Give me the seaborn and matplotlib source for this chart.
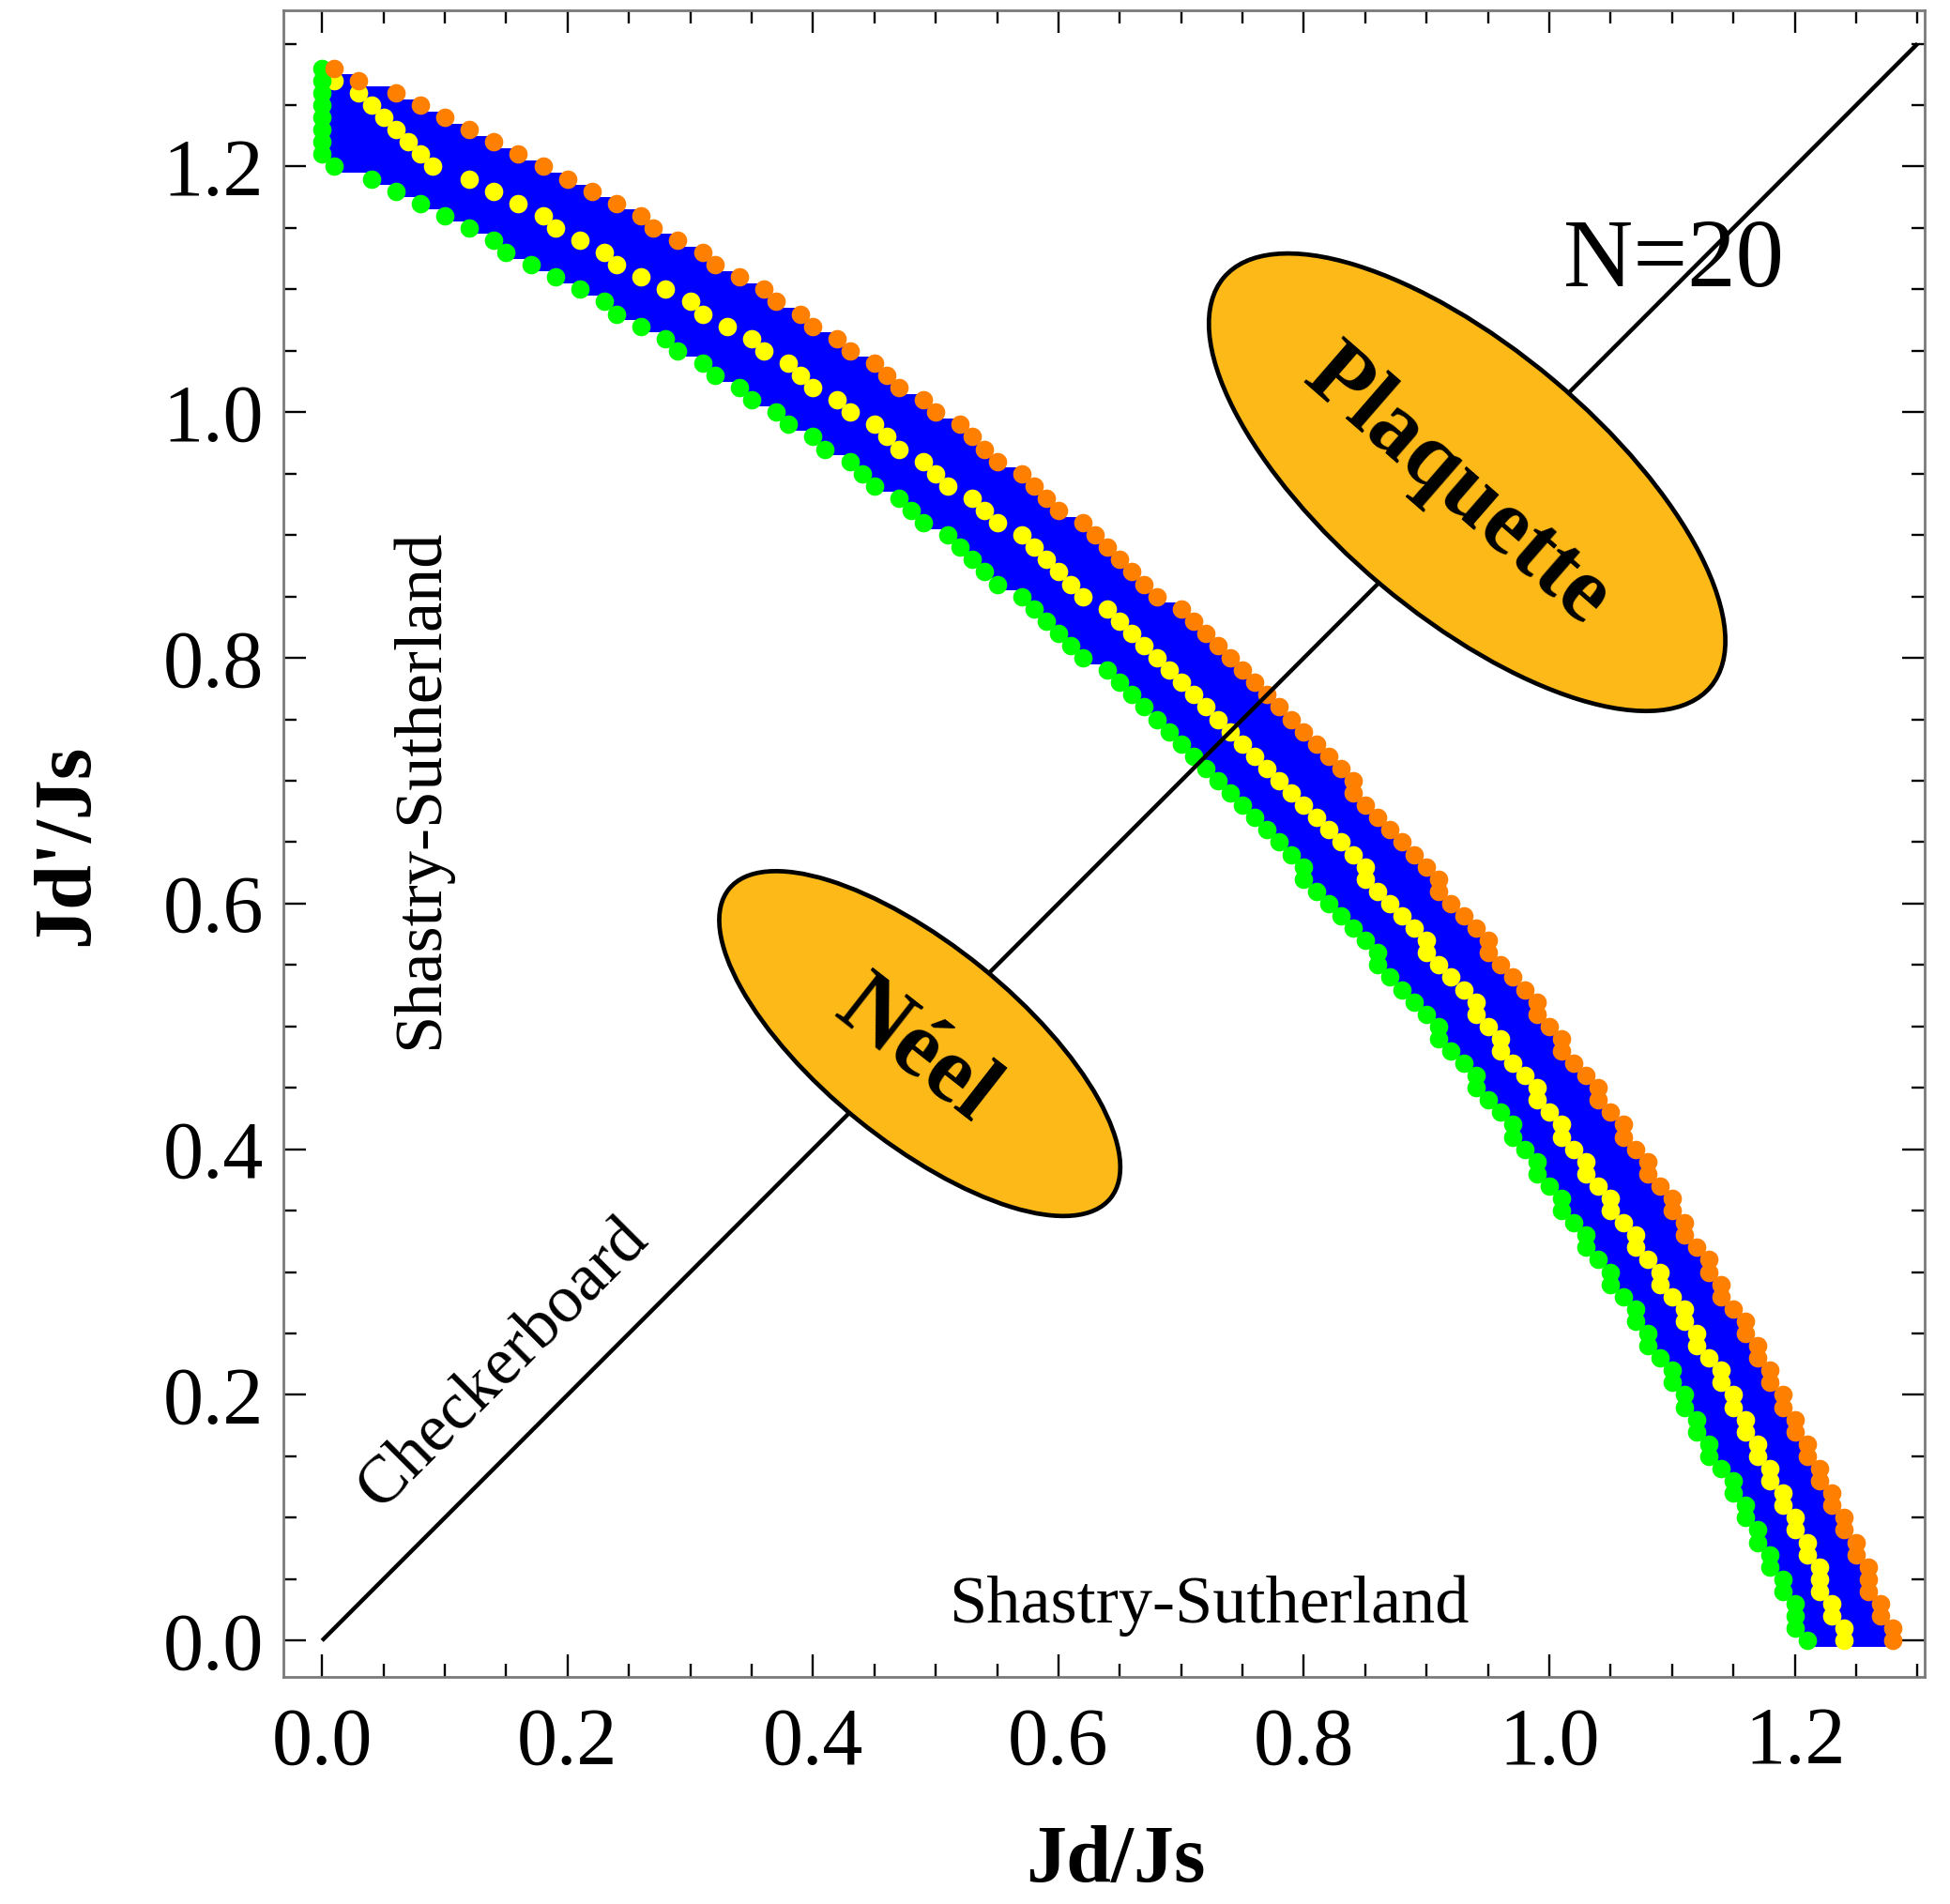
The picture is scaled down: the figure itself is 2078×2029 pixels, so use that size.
import matplotlib
matplotlib.use("Agg")
import matplotlib.pyplot as plt
from matplotlib.patches import Ellipse, Polygon
from matplotlib.ticker import MultipleLocator, FormatStrFormatter
import pandas as pd
import seaborn as sns

# ---------------- data (grid of 0.01) ----------------
GRID = 0.01
# rows (Jd'/Js in hundredths) from top to bottom
green_rows = list(range(128, -1, -1))
green_x = [0, 0, 0, 0, 0, 0, 0, 0,
           1, 4, 6, 8, 10, 12, 14, 15, 17, 19,
           21, 23, 24, 26, 28, 29, 31, 32, 34, 35,
           37, 38, 40, 41, 43, 44, 45, 47, 48, 49,
           51, 52, 53, 54, 55, 57, 58, 59, 60, 61,
           62, 64, 65, 66, 67, 68, 69, 70, 71, 72,
           73, 74, 75, 76, 77, 78, 79, 80, 80, 81,
           82, 83, 84, 85, 86, 86, 87, 88, 89, 90,
           91, 91, 92, 93, 94, 94, 95, 96, 97, 97,
           98, 99, 99, 100, 101, 101, 102, 103, 103, 104,
           105, 105, 106, 107, 107, 108, 108, 109, 110, 110,
           111, 111, 112, 112, 113, 113, 114, 115, 115, 116,
           116, 117, 117, 118, 118, 119, 119, 120, 120, 120,
           121]

orange_rows = list(range(128, -1, -1))
orange_x = [1, 3, 6, 8, 10, 12, 14, 16, 18, 20,
            22, 24, 26, 27, 29, 31, 32, 34, 36, 37,
            39, 40, 42, 43, 45, 46, 47, 49, 50, 52,
            53, 54, 55, 57, 58, 59, 60, 62, 63, 64,
            65, 66, 67, 68, 70, 71, 72, 73, 74, 75,
            76, 77, 78, 79, 80, 81, 82, 83, 84, 84,
            85, 86, 87, 88, 89, 90, 91, 91, 92, 93,
            94, 95, 95, 96, 97, 98, 99, 99, 100, 101,
            101, 102, 103, 104, 104, 105, 106, 106, 107, 108,
            108, 109, 110, 110, 111, 111, 112, 113, 113, 114,
            114, 115, 116, 116, 117, 117, 118, 118, 119, 119,
            120, 120, 121, 121, 122, 122, 123, 123, 124, 124,
            125, 125, 126, 126, 126, 127, 127, 128, 128]

yellow_rows = list(range(127, -1, -1))
yellow_x = [1, 3, 4, 5, 6, 7, 8, 9, 12, 14,
            16, 18, 19, 21, 23, 24, 26, 28, 30, 31,
            33, 35, 36, 38, 39, 40, 42, 43, 45, 46,
            47, 49, 50, 51, 53, 54, 55, 57, 58, 59,
            60, 61, 62, 64, 65, 66, 67, 68, 69, 70,
            71, 72, 73, 74, 75, 76, 77, 78, 79, 80,
            81, 82, 83, 84, 85, 85, 86, 87, 88, 89,
            90, 90, 91, 92, 93, 94, 94, 95, 96, 96,
            97, 98, 99, 99, 100, 101, 101, 102, 103, 103,
            104, 105, 105, 106, 107, 107, 108, 109, 109, 110,
            111, 111, 112, 112, 113, 114, 114, 115, 115, 116,
            116, 117, 117, 118, 118, 119, 119, 120, 120, 121,
            121, 122, 122, 122, 123, 123, 124, 124]

band_top_row = 127

diag_line_x = [0.0, 1.30]
diag_line_y = [0.0, 1.30]

ellipses = {
    "Plaquette": dict(center=(0.933, 0.943), width=0.518, height=0.218, angle=-40),
    "Néel": dict(center=(0.487, 0.486), width=0.400, height=0.160, angle=-39),
}

# ---------------- figure ----------------
sns.set_style("ticks")
plt.rcParams['font.family'] = ['Liberation Serif', 'DejaVu Serif']
plt.rcParams['text.color'] = 'black'
plt.rcParams['axes.labelcolor'] = 'black'
plt.rcParams['xtick.color'] = 'black'
plt.rcParams['ytick.color'] = 'black'

W, H = 2078, 2029
fig = plt.figure(figsize=(W / 100, H / 100), dpi=100)
ax = fig.add_axes([302 / W, (H - 1787) / H, (2051 - 302) / W, (1787 - 10.6) / H])
ax.set_xlim(-0.0315, 1.3058)
ax.set_ylim(-0.0296, 1.3275)

# blue band (staircase of cells between green and orange boundaries)
gx = dict(zip(green_rows, green_x))
ox = dict(zip(orange_rows, orange_x))
verts = [(gx[band_top_row], band_top_row + 0.5)]
for r in range(band_top_row, -1, -1):
    verts += [(ox[r], r + 0.5), (ox[r], r - 0.5)]
for r in range(0, band_top_row + 1):
    verts += [(gx[r], r - 0.5), (gx[r], r + 0.5)]
verts = [(vx * GRID, vy * GRID) for vx, vy in verts]
ax.add_patch(Polygon(verts, closed=True, facecolor="#0000FF", edgecolor="none", zorder=1))

def to_df(rows, xs):
    return pd.DataFrame({"x": [v * GRID for v in xs], "y": [r * GRID for r in rows]})

ms = 200
sns.scatterplot(data=to_df(yellow_rows, yellow_x), x="x", y="y", color="#FFFF00",
                s=ms, linewidth=0, ax=ax, zorder=2, legend=False)
sns.scatterplot(data=to_df(green_rows, green_x), x="x", y="y", color="#00FF00",
                s=ms, linewidth=0, ax=ax, zorder=3, legend=False)
sns.scatterplot(data=to_df(orange_rows, orange_x), x="x", y="y", color="#FF8000",
                s=ms, linewidth=0, ax=ax, zorder=4, legend=False)

ax.plot(diag_line_x, diag_line_y, color="black", lw=3.2, zorder=5, solid_capstyle="butt")

for name, e in ellipses.items():
    ax.add_patch(Ellipse(e["center"], e["width"], e["height"], angle=e["angle"],
                         facecolor="#FDB918", edgecolor="black", lw=3.4, zorder=6))

# texts
ax.text(0.925, 0.939, "Plaquette", rotation=-41, rotation_mode="anchor", ha="center",
        va="center", fontsize=71, fontweight="bold", zorder=7)
ax.text(0.484, 0.480, "Néel", rotation=-38, rotation_mode="anchor", ha="center",
        va="center", fontsize=72, fontweight="bold", zorder=7)
ax.text(1.1015, 1.1027, "N=20", ha="center", va="baseline", fontsize=74, zorder=7)
ax.text(0.0801, 0.693, "Shastry-Sutherland", rotation=90, rotation_mode="anchor",
        ha="center", va="center", fontsize=52, zorder=7)
ax.text(0.7225, 0.015, "Shastry-Sutherland", ha="center", va="baseline", fontsize=52, zorder=7)
ax.text(0.148, 0.225, "Checkerboard", rotation=45, rotation_mode="anchor",
        ha="center", va="center", fontsize=52, zorder=7)

# axes styling
ax.xaxis.set_major_locator(MultipleLocator(0.2))
ax.yaxis.set_major_locator(MultipleLocator(0.2))
ax.xaxis.set_minor_locator(MultipleLocator(0.05))
ax.yaxis.set_minor_locator(MultipleLocator(0.05))
ax.xaxis.set_major_formatter(FormatStrFormatter("%.1f"))
ax.yaxis.set_major_formatter(FormatStrFormatter("%.1f"))
ax.tick_params(which="both", direction="in", top=True, right=True, colors="black",
               labelsize=62)
ax.tick_params(which="major", length=17, width=1.7)
ax.tick_params(which="minor", length=10, width=1.7)
ax.tick_params(axis="x", which="major", pad=23)
ax.tick_params(axis="y", which="major", pad=15)
for sp in ax.spines.values():
    sp.set_color("#7a7a7a")
    sp.set_linewidth(2.0)

ax.set_xlabel("Jd/Js", fontsize=62, fontweight="bold", color="black")
ax.set_ylabel("Jd'/Js", fontsize=62, fontweight="bold", color="black")
ax.xaxis.set_label_coords(0.507, -0.111)
ax.xaxis.label.set_va("center")
ax.yaxis.set_label_coords(-0.131, 0.499)
ax.yaxis.label.set_va("center")

fig.savefig("out.png", dpi=100, facecolor="white")
